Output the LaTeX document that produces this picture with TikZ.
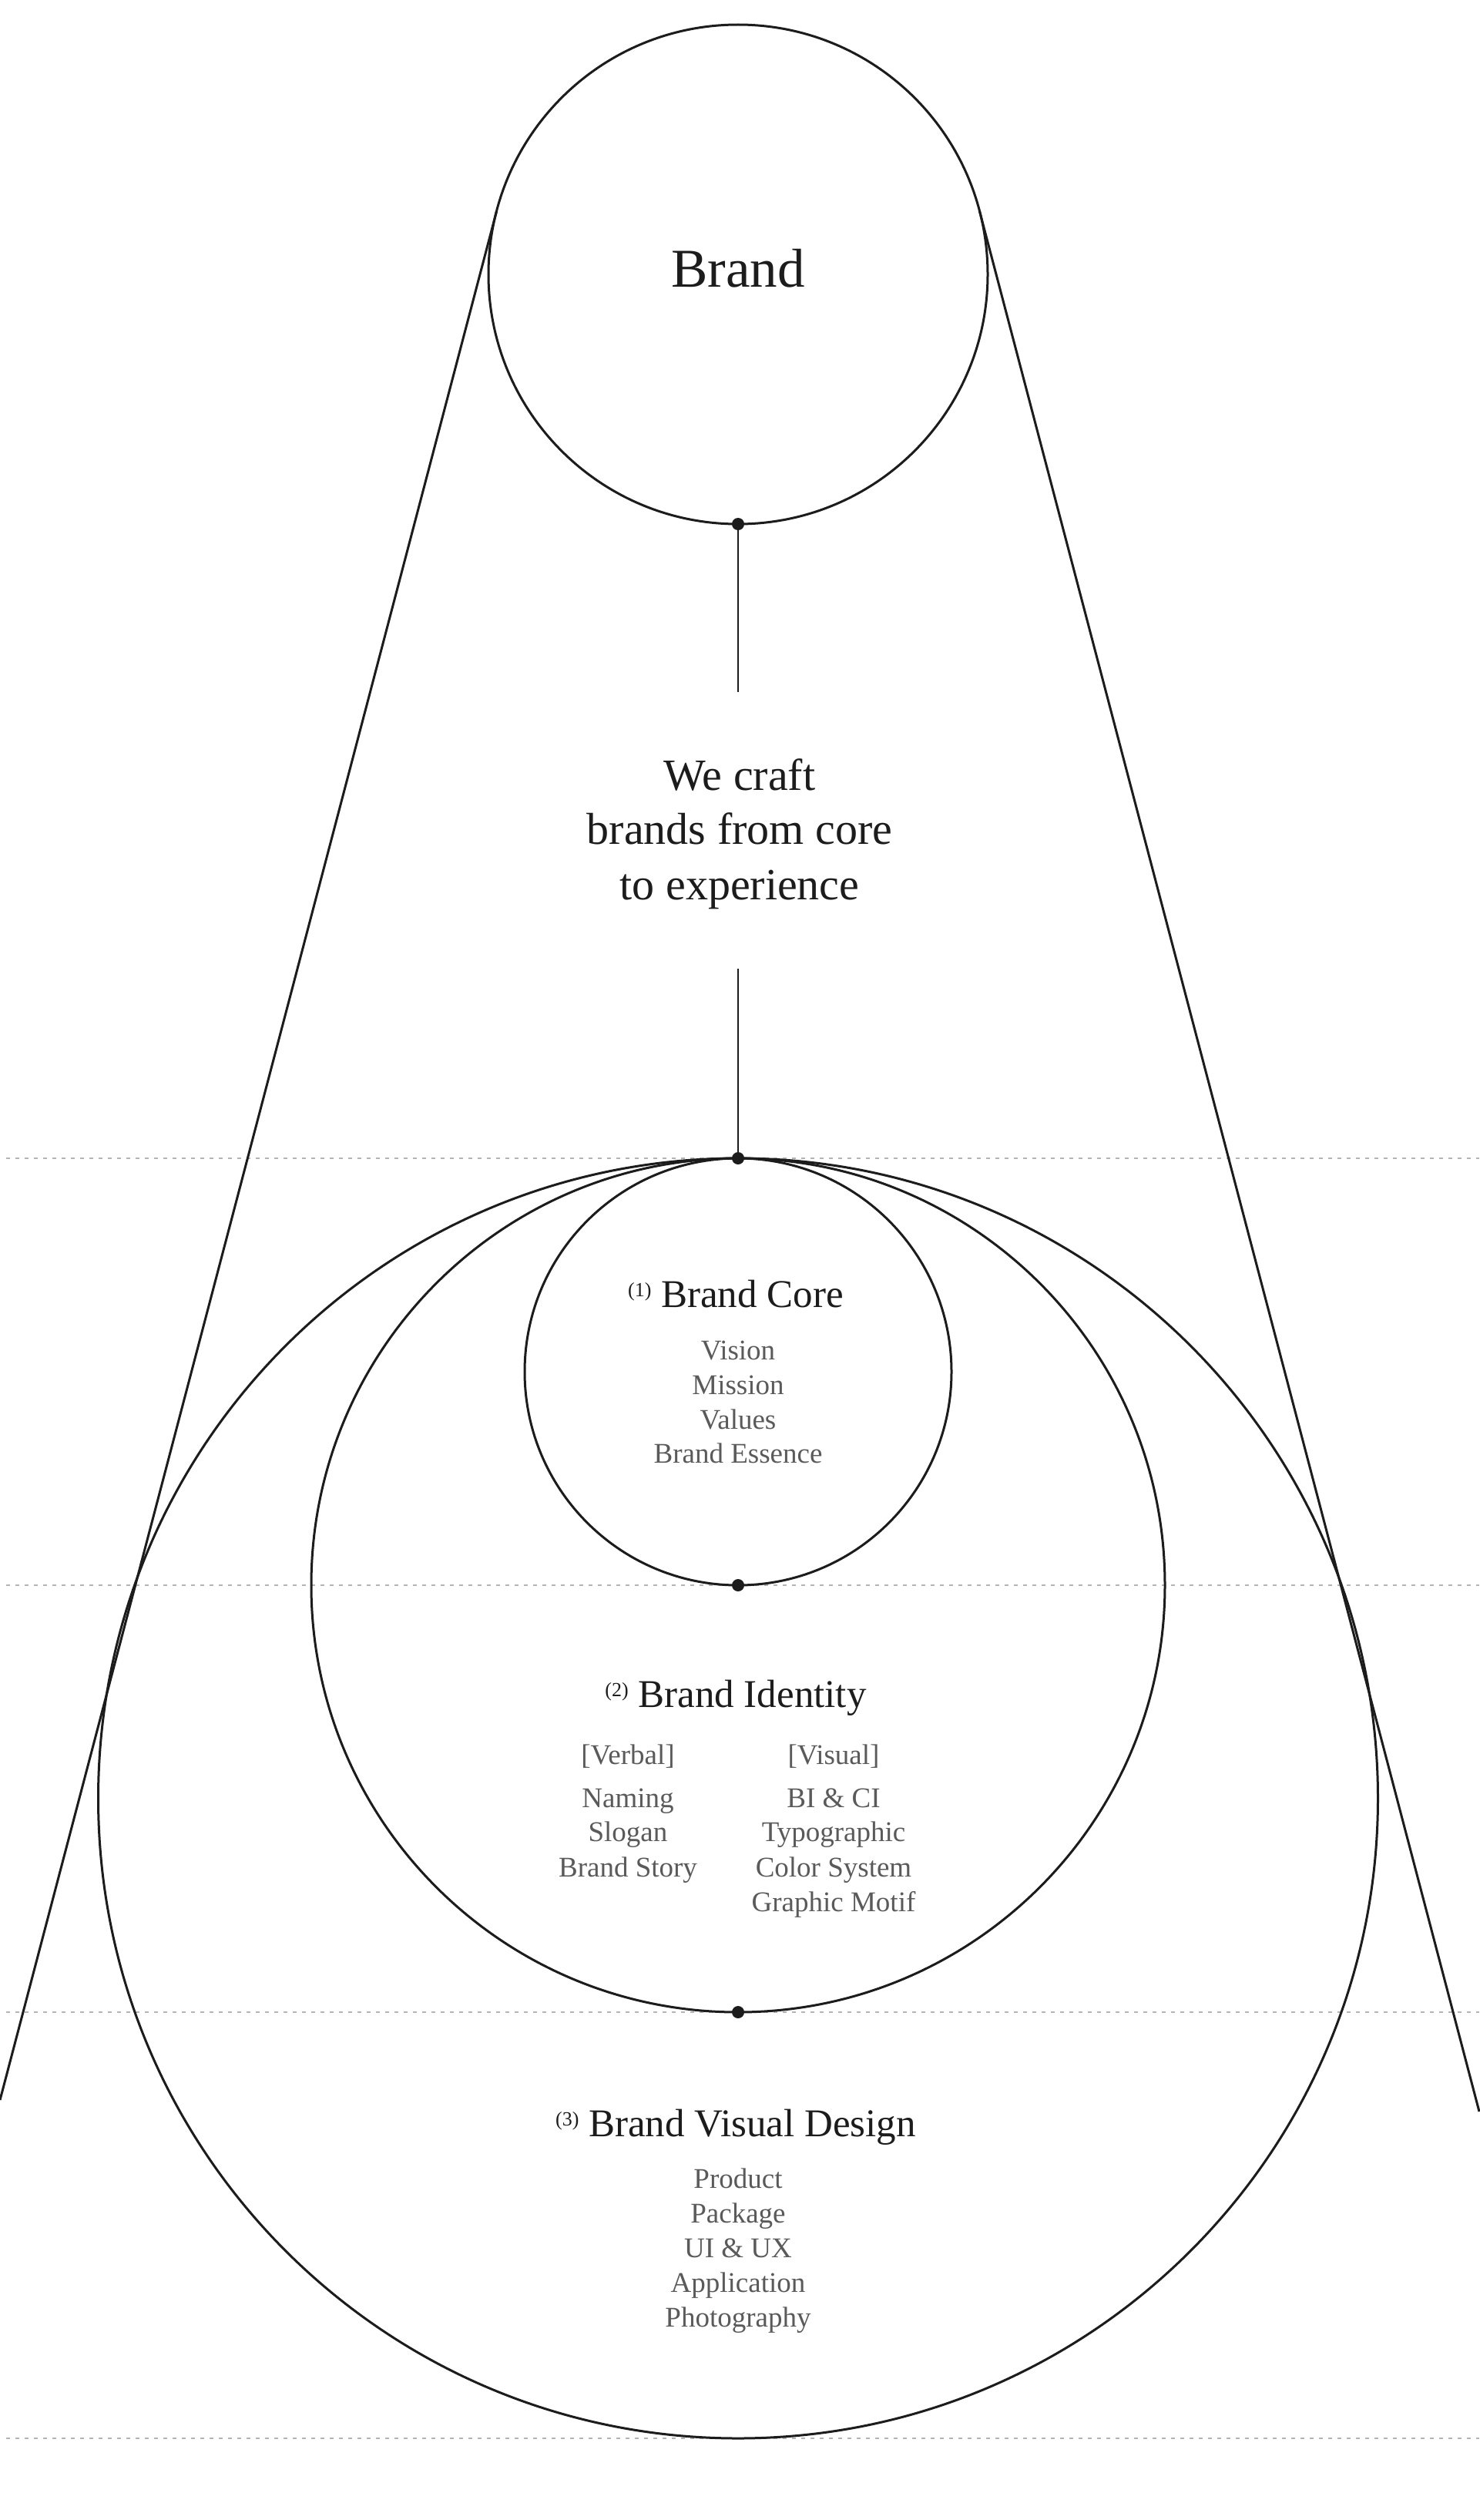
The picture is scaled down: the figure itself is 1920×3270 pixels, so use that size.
\documentclass[tikz,border=0pt]{standalone}
\usepackage{fontspec}
\setmainfont{Liberation Serif}
\definecolor{ink}{HTML}{1C1C1C}
\definecolor{sub}{HTML}{5A5A5A}
\definecolor{guide}{HTML}{B4B4B4}
\newcommand\stepno[1]{{\fontsize{26}{26}\selectfont\raisebox{14pt}{(#1)}}}
\begin{document}
\begin{tikzpicture}[x=1pt,y=-1pt,
  ring/.style={circle,draw=ink,line width=3pt,inner sep=0pt,outer sep=0pt,minimum size=#1},
  knot/.style={circle,fill=ink,inner sep=0pt,outer sep=0pt,minimum size=16pt},
  guideline/.style={draw=guide,line width=1.3pt,dash pattern=on 5pt off 7pt},
  stem/.style={draw=ink,line width=2.5pt},
  flank/.style={draw=ink,line width=3pt},
  bigtitle/.style={anchor=base,text=ink,inner sep=0pt,font=\fontsize{71}{71}\selectfont},
  motto/.style={anchor=base,text=ink,inner sep=0pt,font=\fontsize{58}{58}\selectfont},
  heading/.style={anchor=base,text=ink,inner sep=0pt,font=\fontsize{51}{51}\selectfont},
  item/.style={anchor=base,text=sub,inner sep=0pt,font=\fontsize{37}{37}\selectfont}
]
\useasboundingbox[fill=white] (0,0) rectangle (1920,3270);

% guide lines
\coordinate (g1l) at (8,1503);  \coordinate (g1r) at (1920,1503);
\coordinate (g2l) at (8,2057);  \coordinate (g2r) at (1920,2057);
\coordinate (g3l) at (8,2611);  \coordinate (g3r) at (1920,2611);
\coordinate (g4l) at (8,3164);  \coordinate (g4r) at (1920,3164);
\draw[guideline] (g1l) -- (g1r);
\draw[guideline] (g2l) -- (g2r);
\draw[guideline] (g3l) -- (g3r);
\draw[guideline] (g4l) -- (g4r);

% circles
\node[ring=648pt] (top) at (958,356) {};
\node[ring=1661pt] (outer) at (958,2333.5) {};
\node[ring=1108pt] (mid) at (958,2057) {};
\node[ring=554pt] (core) at (958,1780) {};

% flanking tangent lines
\coordinate (tl) at ([shift={(194.73:324)}]top.center);
\coordinate (tr) at ([shift={(-14.73:324)}]top.center);
\coordinate (bl) at (0,2725);
\coordinate (br) at (1920,2740);
\draw[flank] (tl) -- (bl);
\draw[flank] (tr) -- (br);

% stems
\coordinate (stemA) at (958,898);
\coordinate (stemB) at (958,1257);
\draw[stem] (top.south) -- (stemA);
\draw[stem] (stemB) -- (core.north);

% dots
\node[knot] (d1) at (top.south) {};
\node[knot] (d2) at (core.north) {};
\node[knot] (d3) at (core.south) {};
\node[knot] (d4) at (mid.south) {};

% texts
\node[bigtitle] (brand) at (958,372) {Brand};
\node[motto] (m1) at (960,1025) {We craft};
\node[motto] (m2) at (960,1095) {brands from core};
\node[motto] (m3) at (960,1167) {to experience};

\node[heading] (h1) at (955,1696) {\stepno{1} Brand Core};
\node[item] (c1) at (958,1764) {Vision};
\node[item] (c2) at (958,1809) {Mission};
\node[item] (c3) at (958,1854) {Values};
\node[item] (c4) at (958,1898) {Brand Essence};

\node[heading] (h2) at (955,2215) {\stepno{2} Brand Identity};
\node[item] (vb) at (815,2289) {[Verbal]};
\node[item] (vs) at (1082,2289) {[Visual]};
\node[item] (v1) at (815,2345) {Naming};
\node[item] (v2) at (815,2389) {Slogan};
\node[item] (v3) at (815,2435) {Brand Story};
\node[item] (s1) at (1082,2345) {BI \& CI};
\node[item] (s2) at (1082,2389) {Typographic};
\node[item] (s3) at (1082,2435) {Color System};
\node[item] (s4) at (1082,2480) {Graphic Motif};

\node[heading] (h3) at (955,2772) {\stepno{3} Brand Visual Design};
\node[item] (p1) at (958,2839) {Product};
\node[item] (p2) at (958,2884) {Package};
\node[item] (p3) at (958,2929) {UI \& UX};
\node[item] (p4) at (958,2974) {Application};
\node[item] (p5) at (958,3019) {Photography};
\end{tikzpicture}
\end{document}
